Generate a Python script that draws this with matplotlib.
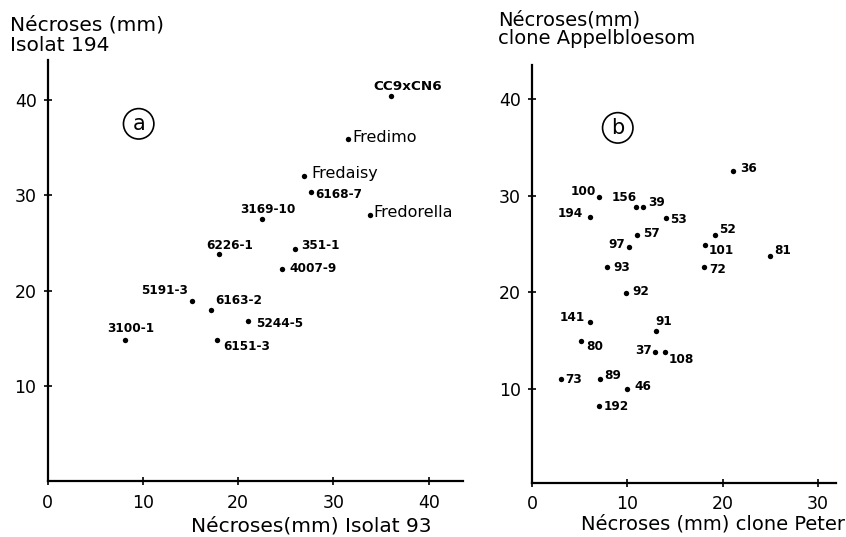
import matplotlib
matplotlib.use("Agg")
import matplotlib.pyplot as plt

# ---------------- data: panel a ----------------
a_labels = ["CC9xCN6", "Fredimo", "Fredaisy", "6168-7", "Fredorella", "3169-10",
            "6226-1", "351-1", "4007-9", "5191-3", "6163-2", "5244-5", "6151-3", "3100-1"]
a_x = [36.0, 31.5, 26.9, 27.6, 33.8, 22.5, 18.0, 26.0, 24.6, 15.1, 17.1, 21.0, 17.8, 8.1]
a_y = [40.4, 35.9, 32.0, 30.3, 27.9, 27.5, 23.8, 24.4, 22.3, 18.9, 18.0, 16.8, 14.8, 14.8]

# ---------------- data: panel b ----------------
b_labels = ["36", "100", "156", "39", "53", "194", "52", "57", "97", "101", "81", "93",
            "72", "92", "141", "91", "80", "37", "108", "73", "89", "46", "192"]
b_x = [21.1, 7.0, 10.9, 11.7, 14.1, 6.1, 19.2, 11.05, 10.2, 18.2, 25.0, 7.9,
       18.05, 9.9, 6.1, 13.0, 5.1, 12.9, 14.0, 3.0, 7.1, 10.0, 7.0]
b_y = [32.5, 29.8, 28.8, 28.8, 27.7, 27.8, 25.9, 25.9, 24.7, 24.9, 23.7, 22.6,
       22.6, 19.9, 16.9, 16.0, 15.0, 13.8, 13.8, 11.0, 11.0, 10.0, 8.2]

a_xticks = [0, 10, 20, 30, 40]
a_yticks = [10, 20, 30, 40]
b_xticks = [0, 10, 20, 30]
b_yticks = [10, 20, 30, 40]

# label placement (pixel offsets from point, horizontal alignment)
a_place = {
    "CC9xCN6": (17, 10, "center"), "Fredimo": (5, 2, "left"), "Fredaisy": (7, 3, "left"),
    "6168-7": (5, -2, "left"), "Fredorella": (4, 3, "left"), "3169-10": (6, 10, "center"),
    "6226-1": (11, 9, "center"), "351-1": (6, 3, "left"), "4007-9": (7, 0, "left"),
    "5191-3": (-4, 10, "right"), "6163-2": (5, 9, "left"), "5244-5": (8, -3, "left"),
    "6151-3": (6, -6, "left"), "3100-1": (6, 12, "center"),
}
b_place = {
    "36": (7, 3, "left"), "100": (-3, 6, "right"), "156": (-12, 10, "center"),
    "39": (5, 5, "left"), "53": (4, -2, "left"), "194": (-7, 3, "right"),
    "52": (4, 6, "left"), "57": (6, 2, "left"), "97": (-4, 2, "right"),
    "101": (3, -6, "left"), "81": (4, 6, "left"), "93": (6, 0, "left"),
    "72": (5, -2, "left"), "92": (6, 2, "left"), "141": (-5, 5, "right"),
    "91": (8, 9, "center"), "80": (6, -6, "left"), "37": (-3, 2, "right"),
    "108": (3, -7, "left"), "73": (5, 0, "left"), "89": (5, 4, "left"),
    "46": (7, 2, "left"), "192": (5, 0, "left"),
}

plt.rcParams['font.family'] = ['DejaVu Sans']

W, H = 846, 537
fig = plt.figure(figsize=(W / 100, H / 100), dpi=100)


def px_axes(left, right, top, bottom):
    return fig.add_axes([left / W, 1 - bottom / H, (right - left) / W, (bottom - top) / H])


def style(ax, xticks, yticks):
    for s in ("top", "right"):
        ax.spines[s].set_visible(False)
    for s in ("left", "bottom"):
        ax.spines[s].set_linewidth(1.6)
    ax.set_xticks(xticks)
    ax.set_yticks(yticks)
    ax.tick_params(axis="both", direction="inout", length=6, width=1.2,
                   labelsize=12.5, color="black")
    ax.tick_params(axis="x", pad=6)
    ax.tick_params(axis="y", pad=5)
    ax.set_facecolor("none")


def plot_points(ax, xs, ys, labels, place, name_size, num_size):
    ax.scatter(xs, ys, s=15, color="black", zorder=3, linewidths=0)
    for x, y, lab in zip(xs, ys, labels):
        dx, dy, ha = place[lab]
        is_name = lab.startswith("Fred")
        size = name_size if is_name else num_size
        if lab.startswith("CC"):
            size = num_size + 1
        ax.annotate(lab, (x, y), xytext=(dx, dy), textcoords="offset pixels",
                    ha=ha, va="center", fontsize=size,
                    fontweight="normal" if is_name else "bold")


# ---------------- panel a ----------------
axa = px_axes(47.7, 463, 60, 481)
axa.set_xlim(0, 43.6)
axa.set_ylim(0, 44.2)
style(axa, a_xticks, a_yticks)
plot_points(axa, a_x, a_y, a_labels, a_place, 11.5, 8.7)
axa.text(9.55, 37.5, "a", ha="center", va="center", fontsize=15,
         bbox=dict(boxstyle="circle,pad=0.25", fc="none", ec="black", lw=1.2))

# ---------------- panel b ----------------
axb = px_axes(532, 836, 65, 482.7)
axb.set_xlim(0, 31.9)
axb.set_ylim(0.3, 43.5)
style(axb, b_xticks, b_yticks)
plot_points(axb, b_x, b_y, b_labels, b_place, 11.5, 8.7)
axb.text(9.0, 37.0, "b", ha="center", va="center", fontsize=15,
         bbox=dict(boxstyle="circle,pad=0.25", fc="none", ec="black", lw=1.2))

# ---------------- axis titles ----------------
fig.text(10 / W, 1 - 51 / H, "Nécroses (mm)\nIsolat 194", ha="left", va="baseline",
         fontsize=14.5, linespacing=1.12)
fig.text(431 / W, 1 - 531 / H, "Nécroses(mm) Isolat 93", ha="right", va="baseline",
         fontsize=14.5)
fig.text(498 / W, 1 - 44 / H, "Nécroses(mm)\nclone Appelbloesom", ha="left", va="baseline",
         fontsize=14, linespacing=1.0)
fig.text(845 / W, 1 - 530 / H, "Nécroses (mm) clone Peter", ha="right", va="baseline",
         fontsize=14)

fig.savefig("out.png", dpi=100)
